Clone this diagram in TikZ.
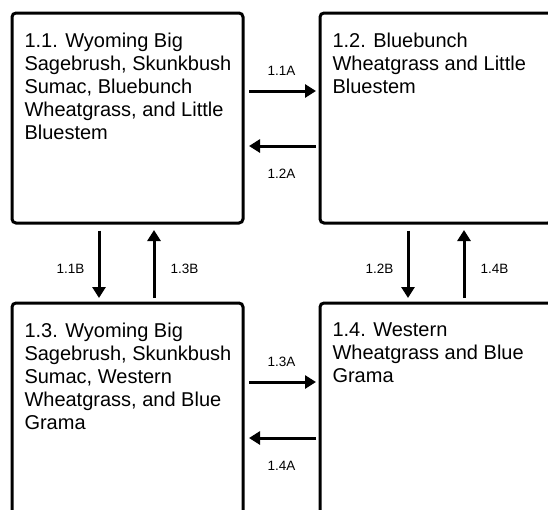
\documentclass[tikz,border=0pt]{standalone}
\usepackage{fontspec}
\setmainfont{Liberation Sans}
\usepackage{tikz}
\usetikzlibrary{arrows.meta}

\begin{document}
\begin{tikzpicture}[x=1pt, y=-1pt, line width=3pt,
		box/.style={draw, rounded corners=4pt, anchor=north west, inner sep=0pt,
			outer sep=0pt, minimum width=231pt, minimum height=210pt},
		boxtext/.style={anchor=north west, inner sep=0pt, align=left,
			font=\fontsize{20pt}{23pt}\selectfont},
		trans/.style={-{Triangle[length=11pt, width=13pt]}},
		translabel/.style={midway, inner sep=0pt, font=\fontsize{13.5pt}{15pt}\selectfont}]
		\useasboundingbox (0,0) rectangle (548,509);

		% States
		\node (b11) at (12, 13) [box] {};
		\node (b12) at (320, 13) [box, minimum width=232pt] {};
		\node (b13) at (12, 303) [box, minimum height=222pt] {};
		\node (b14) at (320, 303) [box, minimum width=232pt, minimum height=222pt] {};

		\node (t11) at ([xshift=11pt, yshift=-18.5pt]b11.north west) [boxtext]
			{1.1. Wyoming Big\\Sagebrush, Skunkbush\\Sumac, Bluebunch\\Wheatgrass, and Little\\Bluestem};
		\node (t12) at ([xshift=11pt, yshift=-18.5pt]b12.north west) [boxtext]
			{1.2. Bluebunch\\Wheatgrass and Little\\Bluestem};
		\node (t13) at ([xshift=11pt, yshift=-18.5pt]b13.north west) [boxtext]
			{1.3. Wyoming Big\\Sagebrush, Skunkbush\\Sumac, Western\\Wheatgrass, and Blue\\Grama};
		\node (t14) at ([xshift=11pt, yshift=-18.5pt]b14.north west) [boxtext]
			{1.4. Western\\Wheatgrass and Blue\\Grama};

		% Transitions across
		\draw ([yshift=-78pt]b11.north east) -- ([yshift=-78pt]b12.north west)
			[trans, shorten <=6pt, shorten >=4pt] node[translabel, yshift=20pt] (l11a) {1.1A};
		\draw ([yshift=-133pt]b12.north west) -- ([yshift=-133pt]b11.north east)
			[trans, shorten <=4pt, shorten >=6pt] node[translabel, yshift=-28pt] (l12a) {1.2A};
		\draw ([yshift=-79pt]b13.north east) -- ([yshift=-79pt]b14.north west)
			[trans, shorten <=6pt, shorten >=4pt] node[translabel, yshift=20pt] (l13a) {1.3A};
		\draw ([yshift=-135pt]b14.north west) -- ([yshift=-135pt]b13.north east)
			[trans, shorten <=4pt, shorten >=6pt] node[translabel, yshift=-28pt] (l14a) {1.4A};

		% Transitions down and up
		\draw ([xshift=87pt]b11.south west) -- ([xshift=87pt]b13.north west)
			[trans, shorten <=7.5pt, shorten >=5pt] node[translabel, xshift=-28.5pt, yshift=-6pt] (l11b) {1.1B};
		\draw ([xshift=142pt]b13.north west) -- ([xshift=142pt]b11.south west)
			[trans, shorten <=5pt, shorten >=7pt] node[translabel, xshift=30.5pt, yshift=-6pt] (l13b) {1.3B};
		\draw ([xshift=88pt]b12.south west) -- ([xshift=88pt]b14.north west)
			[trans, shorten <=7.5pt, shorten >=5pt] node[translabel, xshift=-28.5pt, yshift=-6pt] (l12b) {1.2B};
		\draw ([xshift=144pt]b14.north west) -- ([xshift=144pt]b12.south west)
			[trans, shorten <=5pt, shorten >=7pt] node[translabel, xshift=30.5pt, yshift=-6pt] (l14b) {1.4B};
	\end{tikzpicture}
\end{document}
